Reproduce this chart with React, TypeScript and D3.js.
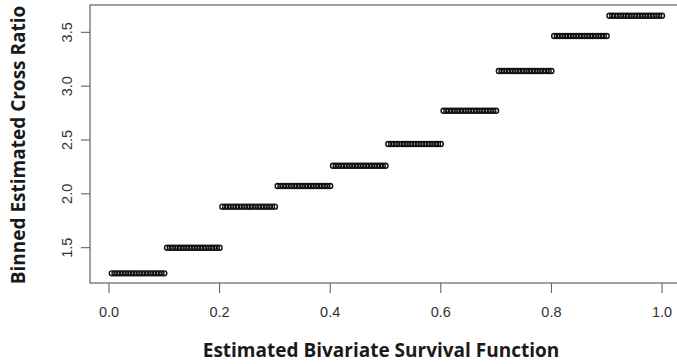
import React from "react";
import * as d3 from "d3";

// Binned estimated cross ratio for each decile of the estimated survival function
const binUpper = [0.1, 0.2, 0.3, 0.4, 0.5, 0.6, 0.7, 0.8, 0.9, 1.0];
const binValues = [1.262, 1.5, 1.881, 2.073, 2.261, 2.463, 2.772, 3.141, 3.466, 3.654];

// Estimated bivariate survival function values (x of each plotted point)
const survival = [
  0.005, 0.01, 0.015, 0.02, 0.025, 0.03, 0.035, 0.04, 0.045, 0.05, 0.055, 0.06, 0.065, 0.07, 0.075, 0.08, 0.085, 0.09, 0.095, 0.1,
  0.105, 0.11, 0.115, 0.12, 0.125, 0.13, 0.135, 0.14, 0.145, 0.15, 0.155, 0.16, 0.165, 0.17, 0.175, 0.18, 0.185, 0.19, 0.195, 0.2,
  0.205, 0.21, 0.215, 0.22, 0.225, 0.23, 0.235, 0.24, 0.245, 0.25, 0.255, 0.26, 0.265, 0.27, 0.275, 0.28, 0.285, 0.29, 0.295, 0.3,
  0.305, 0.31, 0.315, 0.32, 0.325, 0.33, 0.335, 0.34, 0.345, 0.35, 0.355, 0.36, 0.365, 0.37, 0.375, 0.38, 0.385, 0.39, 0.395, 0.4,
  0.405, 0.41, 0.415, 0.42, 0.425, 0.43, 0.435, 0.44, 0.445, 0.45, 0.455, 0.46, 0.465, 0.47, 0.475, 0.48, 0.485, 0.49, 0.495, 0.5,
  0.505, 0.51, 0.515, 0.52, 0.525, 0.53, 0.535, 0.54, 0.545, 0.55, 0.555, 0.56, 0.565, 0.57, 0.575, 0.58, 0.585, 0.59, 0.595, 0.6,
  0.605, 0.61, 0.615, 0.62, 0.625, 0.63, 0.635, 0.64, 0.645, 0.65, 0.655, 0.66, 0.665, 0.67, 0.675, 0.68, 0.685, 0.69, 0.695, 0.7,
  0.705, 0.71, 0.715, 0.72, 0.725, 0.73, 0.735, 0.74, 0.745, 0.75, 0.755, 0.76, 0.765, 0.77, 0.775, 0.78, 0.785, 0.79, 0.795, 0.8,
  0.805, 0.81, 0.815, 0.82, 0.825, 0.83, 0.835, 0.84, 0.845, 0.85, 0.855, 0.86, 0.865, 0.87, 0.875, 0.88, 0.885, 0.89, 0.895, 0.9,
  0.905, 0.91, 0.915, 0.92, 0.925, 0.93, 0.935, 0.94, 0.945, 0.95, 0.955, 0.96, 0.965, 0.97, 0.975, 0.98, 0.985, 0.99, 0.995, 1.0,
];

const xTicks = [0, 0.2, 0.4, 0.6, 0.8, 1.0];
const yTicks = [1.5, 2.0, 2.5, 3.0, 3.5];
const xTitle = "Estimated Bivariate Survival Function";
const yTitle = "Binned Estimated Cross Ratio";

const W = 677;
const H = 364;

export default function App() {
  const x = d3.scaleLinear().domain([0, 1]).range([109, 662]);
  const y = d3.scaleLinear().domain([1.5, 3.5]).range([247.7, 32.3]);
  const box = { left: 90, right: 684, top: 5, bottom: 283 };

  const binOf = (v: number) => {
    const i = binUpper.findIndex((u) => v <= u + 1e-9);
    return i < 0 ? binUpper.length - 1 : i;
  };
  const points = survival.map((s) => ({ s, v: binValues[binOf(s)] }));

  const axisColor = "#555";
  const textColor = "#333";
  const tickFont = "'Liberation Sans', Arial, sans-serif";
  const titleFont = "'Open Sans', 'Noto Sans', sans-serif";

  return (
    <svg
      width={W}
      height={H}
      style={{ position: "absolute", left: 0, top: 0, background: "#fff" }}
    >
      <rect
        x={box.left}
        y={box.top}
        width={box.right - box.left}
        height={box.bottom - box.top}
        fill="none"
        stroke={axisColor}
        strokeWidth={1.1}
      />
      {xTicks.map((t) => (
        <g key={"xt" + t}>
          <line x1={x(t)} x2={x(t)} y1={box.bottom} y2={box.bottom + 10} stroke={axisColor} strokeWidth={1} />
          <text
            x={x(t)}
            y={317}
            textAnchor="middle"
            fontFamily={tickFont}
            fontSize={14.5}
            fill={textColor}
          >
            {d3.format(".1f")(t)}
          </text>
        </g>
      ))}
      {yTicks.map((t) => (
        <g key={"yt" + t}>
          <line x1={box.left - 9} x2={box.left} y1={y(t)} y2={y(t)} stroke={axisColor} strokeWidth={1} />
          <text
            transform={`translate(${72},${y(t)}) rotate(-90)`}
            textAnchor="middle"
            fontFamily={tickFont}
            fontSize={14.5}
            fill={textColor}
          >
            {d3.format(".1f")(t)}
          </text>
        </g>
      ))}
      {points.map((p, i) => (
        <circle
          key={i}
          cx={x(p.s)}
          cy={y(p.v)}
          r={2.5}
          fill="none"
          stroke="#111"
          strokeWidth={1.4}
        />
      ))}
      <text
        x={381}
        y={357}
        textAnchor="middle"
        fontFamily={titleFont}
        fontWeight="bold"
        fontSize={19}
        fill="#1a1a1a"
      >
        {xTitle}
      </text>
      <text
        transform={`translate(${25},${145}) rotate(-90)`}
        textAnchor="middle"
        fontFamily={titleFont}
        fontWeight="bold"
        fontSize={19}
        fill="#1a1a1a"
      >
        {yTitle}
      </text>
    </svg>
  );
}
